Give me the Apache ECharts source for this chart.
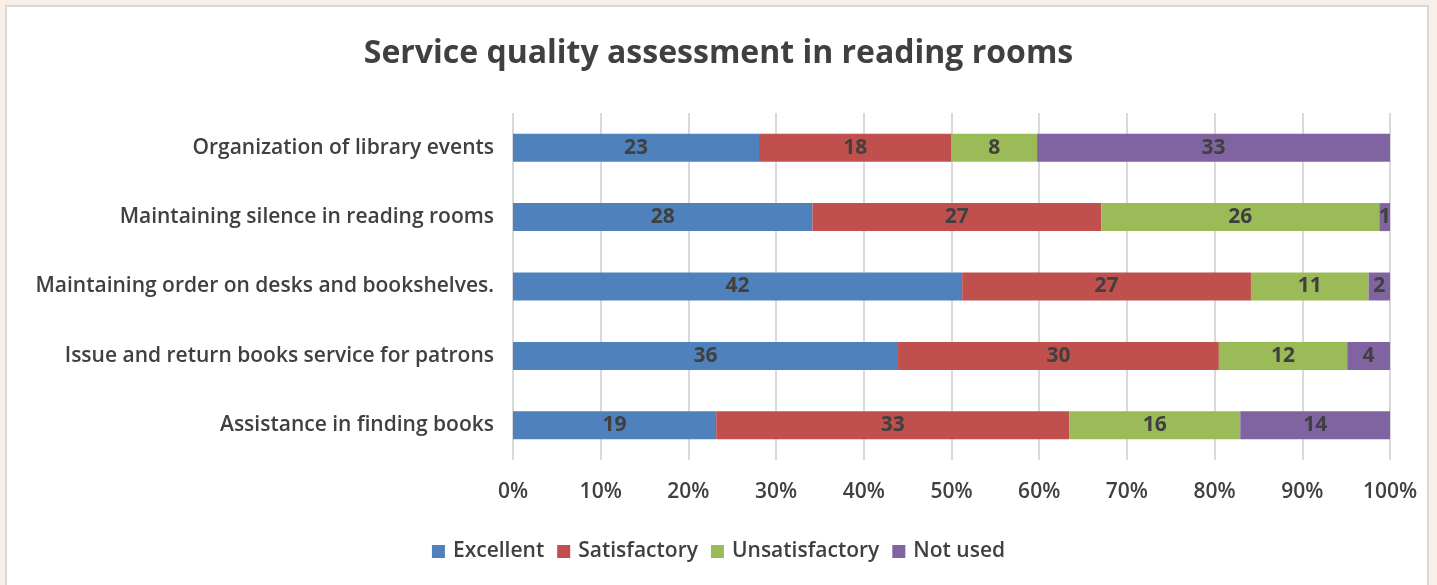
<!DOCTYPE html>
<html><head><meta charset="utf-8">
<script src="https://cdn.jsdelivr.net/npm/echarts@6/dist/echarts.min.js"></script>
<style>
html,body{margin:0;padding:0;background:#f8efe9;}
#frame{position:absolute;left:5px;top:5px;width:1424px;height:590px;background:#fff;border:2px solid #d9d9d9;box-sizing:border-box;}
#chart{position:absolute;left:0;top:0;width:1437px;height:585px;}
</style></head>
<body>
<div id="frame"></div>
<div id="chart"></div>
<script>
const categories = [
  'Assistance in finding books',
  'Issue and return books service for patrons',
  'Maintaining order on desks and bookshelves.',
  'Maintaining silence in reading rooms',
  'Organization of library events'
];
const seriesNames = ['Excellent', 'Satisfactory', 'Unsatisfactory', 'Not used'];
const excellent = [19, 36, 42, 28, 23];
const satisfactory = [33, 30, 27, 27, 18];
const unsatisfactory = [16, 12, 11, 26, 8];
const notUsed = [14, 4, 2, 1, 33];
const xTickLabels = ['0%','10%','20%','30%','40%','50%','60%','70%','80%','90%','100%'];
const colors = ['#4f81bd', '#c0504d', '#9bbb59', '#8064a2'];

const raw = [excellent, satisfactory, unsatisfactory, notUsed];
const totals = categories.map((c, i) => raw.reduce((s, arr) => s + arr[i], 0));
const font = '"Open Sans", sans-serif';

const chart = echarts.init(document.getElementById('chart'), null, {renderer: 'canvas'});
chart.setOption({
  backgroundColor: 'transparent',
  animation: false,
  title: {
    text: 'Service quality assessment in reading rooms',
    left: 'center', top: 33,
    textStyle: {fontFamily: font, fontSize: 32, fontWeight: 'bold', color: '#404040'}
  },
  legend: {
    bottom: 18, left: 'center',
    itemWidth: 13, itemHeight: 13, itemGap: 13,
    icon: 'rect',
    textStyle: {fontFamily: font, fontSize: 21, fontWeight: 600, color: '#404040', padding: [0, 0, 0, 3]},
    data: seriesNames
  },
  grid: {left: 513, right: 47, top: 113, height: 347, containLabel: false},
  xAxis: {
    type: 'value', min: 0, max: 100, interval: 10,
    axisLine: {show: false}, axisTick: {show: false},
    splitLine: {show: true, lineStyle: {color: '#d9d9d9', width: 2}},
    axisLabel: {
      margin: 22, fontFamily: font, fontSize: 21, fontWeight: 600, color: '#404040',
      formatter: (v) => xTickLabels[Math.round(v / 10)]
    }
  },
  yAxis: {
    type: 'category', data: categories,
    axisLine: {show: false}, axisTick: {show: false},
    axisLabel: {margin: 19, fontFamily: font, fontSize: 21, fontWeight: 600, color: '#404040'}
  },
  series: raw.map((arr, k) => ({
    name: seriesNames[k],
    type: 'bar', stack: 'total', barWidth: 28,
    itemStyle: {color: colors[k]},
    label: {
      show: true, position: 'inside',
      fontFamily: font, fontSize: 21, fontWeight: 'bold', color: '#404040',
      formatter: (p) => String(arr[p.dataIndex])
    },
    data: arr.map((v, i) => v / totals[i] * 100)
  }))
});
</script>
</body></html>
